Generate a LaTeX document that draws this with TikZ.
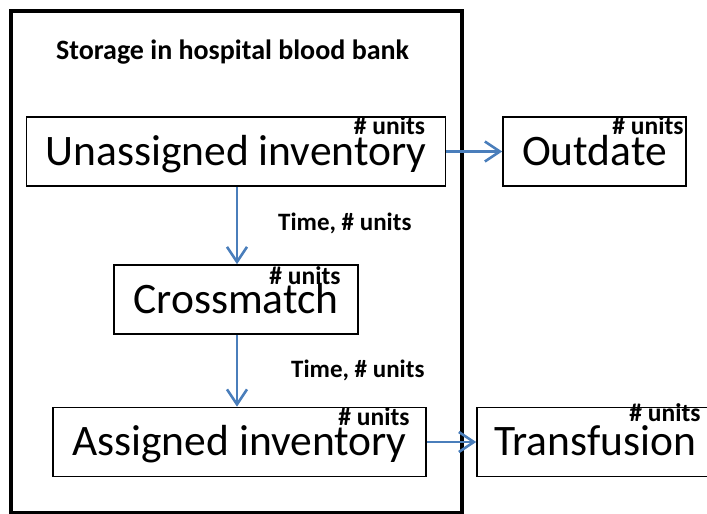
\documentclass[tikz,border=0pt]{standalone}
\usepackage{fontspec}
\setmainfont{Carlito}
\usetikzlibrary{arrows.meta}

\definecolor{flowblue}{HTML}{4A7EBB}

\tikzset{
  stockbox/.style={draw=black, line width=1.6pt, rectangle, inner sep=0pt,
    minimum height=69pt, text height=27pt, text depth=0pt,
    font=\fontsize{43.5}{48}\selectfont},
  countlabel/.style={anchor=base east, inner sep=0pt,
    font=\bfseries\fontsize{25.5}{28}\selectfont},
  flowlabel/.style={anchor=base west, inner sep=0pt,
    font=\bfseries\fontsize{25}{28}\selectfont},
  flow/.style={draw=flowblue, line width=2.6pt,
    -{Straight Barb[length=15pt, width=20pt, line width=2.6pt]}},
  bankframe/.style={draw=black, line width=4pt}
}

\begin{document}
\begin{tikzpicture}[x=1pt, y=-1pt]
  \useasboundingbox (0,0) rectangle (707,514);
  \clip (0,0) rectangle (707,514);

  % hospital blood bank enclosure
  \draw[bankframe] (10.5,10.5) rectangle (462,513);
  \node[anchor=base, inner sep=0pt, font=\bfseries\fontsize{28}{32}\selectfont]
    (title) at (232.5,59) {Storage in hospital blood bank};

  % stock boxes
  \node[stockbox, minimum width=419pt] (unassigned) at (236,151.5) {Unassigned inventory};
  \node[stockbox, minimum width=183pt] (outdate) at (594.5,151.5) {Outdate};
  \node[stockbox, minimum width=244pt] (crossmatch) at (236,299.5) {Crossmatch};
  \node[stockbox, minimum width=373pt] (assigned) at (239.5,442) {Assigned inventory};
  \node[stockbox, minimum width=236pt] (transfusion) at (595,442) {Transfusion};

  % unit counts
  \node[countlabel] (uCount) at ([xshift=-21pt, yshift=-18pt]unassigned.north east) {\# units};
  \node[countlabel] (oCount) at ([xshift=-3pt, yshift=-18pt]outdate.north east) {\# units};
  \node[countlabel] (cCount) at ([xshift=-18pt, yshift=-20pt]crossmatch.north east) {\# units};
  \node[countlabel] (aCount) at ([xshift=-17pt, yshift=-19pt]assigned.north east) {\# units};
  \node[countlabel] (tCount) at ([xshift=-13pt, yshift=-15pt]transfusion.north east) {\# units};

  % flows
  \draw[flow] (unassigned.east) -- (outdate.west);
  \coordinate (d1top) at ([xshift=1pt]unassigned.south);
  \draw[flow] (d1top) -- (d1top |- crossmatch.north);
  \coordinate (d2top) at ([xshift=1pt]crossmatch.south);
  \draw[flow] (d2top) -- (d2top |- assigned.north);
  \draw[flow] (assigned.east) -- (transfusion.west);

  % flow labels
  \node[flowlabel] (t1) at (278,230) {Time, \# units};
  \node[flowlabel] (t2) at (291,377) {Time, \# units};
\end{tikzpicture}
\end{document}
